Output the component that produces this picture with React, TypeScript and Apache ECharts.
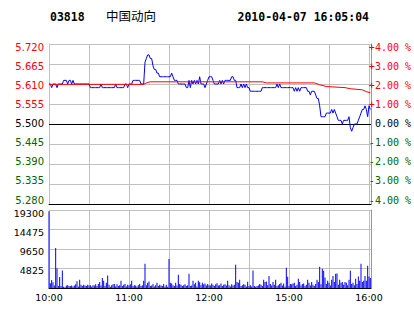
import React, { useEffect, useRef } from "react";
import * as echarts from "echarts";

// ---- data ----
const STOCK_CODE = "03818";
const STOCK_NAME = "中国动向";
const STAMP = "2010-04-07 16:05:04";

const PRICE_TICKS = ["5.280", "5.335", "5.390", "5.445", "5.500", "5.555", "5.610", "5.665", "5.720"];
const PCT_TICKS = ["-4.00 %", "-3.00 %", "-2.00 %", "-1.00 %", "\u00a00.00 %", "+1.00 %", "+2.00 %", "+3.00 %", "+4.00 %"];
const VOL_TICKS = ["", "4825", "9650", "14475", "19300"];
const TIME_LABELS = ["10:00", "11:00", "12:00", "15:00", "16:00"];
const TIME_AT = [0, 60, 120, 180, 240];

const PREV_CLOSE = 5.5;

// minute-by-minute price (10:00-12:30, 14:30-16:00)
const PRICES = [
  5.61, 5.61, 5.60, 5.61, 5.61, 5.61, 5.60, 5.61, 5.61, 5.61,
  5.61, 5.62, 5.62, 5.62, 5.61, 5.62, 5.62, 5.61, 5.62, 5.61,
  5.61, 5.61, 5.61, 5.61, 5.61, 5.61, 5.61, 5.61, 5.61, 5.61,
  5.61, 5.60, 5.60, 5.60, 5.60, 5.60, 5.60, 5.60, 5.60, 5.61,
  5.60, 5.60, 5.60, 5.60, 5.60, 5.60, 5.60, 5.60, 5.60, 5.60,
  5.61, 5.60, 5.60, 5.60, 5.60, 5.60, 5.60, 5.61, 5.61, 5.60,
  5.61, 5.61, 5.61, 5.62, 5.62, 5.62, 5.62, 5.62, 5.62, 5.61,
  5.61, 5.61, 5.67, 5.68, 5.69, 5.69, 5.68, 5.68, 5.66, 5.65,
  5.65, 5.64, 5.64, 5.63, 5.63, 5.63, 5.63, 5.63, 5.63, 5.63,
  5.63, 5.63, 5.64, 5.63, 5.62, 5.62, 5.62, 5.61, 5.61, 5.61,
  5.61, 5.61, 5.61, 5.60, 5.60, 5.62, 5.60, 5.62, 5.61, 5.62,
  5.61, 5.62, 5.61, 5.63, 5.61, 5.61, 5.61, 5.60, 5.61, 5.62,
  5.63, 5.63, 5.63, 5.62, 5.61, 5.61, 5.61, 5.61, 5.62, 5.61,
  5.62, 5.61, 5.62, 5.62, 5.62, 5.62, 5.62, 5.63, 5.63, 5.62,
  5.62, 5.60, 5.60, 5.60, 5.61, 5.60, 5.61, 5.60, 5.61, 5.60,
  5.60, 5.59, 5.59, 5.59, 5.59, 5.59, 5.59, 5.59, 5.59, 5.59,
  5.60, 5.60, 5.60, 5.60, 5.60, 5.60, 5.60, 5.60, 5.60, 5.60,
  5.60, 5.61, 5.60, 5.61, 5.60, 5.60, 5.60, 5.60, 5.60, 5.60,
  5.60, 5.60, 5.60, 5.60, 5.59, 5.60, 5.59, 5.60, 5.59, 5.60,
  5.60, 5.60, 5.60, 5.60, 5.59, 5.59, 5.58, 5.59, 5.59, 5.59,
  5.58, 5.57, 5.57, 5.55, 5.52, 5.52, 5.52, 5.52, 5.53, 5.53,
  5.53, 5.53, 5.54, 5.53, 5.54, 5.53, 5.52, 5.51, 5.51, 5.51,
  5.50, 5.51, 5.51, 5.51, 5.51, 5.52, 5.49, 5.48, 5.49, 5.50,
  5.50, 5.50, 5.51, 5.52, 5.53, 5.54, 5.54, 5.55, 5.54, 5.52,
  5.55, 5.54,
];

// average price line, read at its turning points
const AVG_MIN = [0, 71, 73, 76, 160, 163, 199, 203, 208, 222, 226, 235, 238, 241];
const AVG_VAL = [5.609, 5.609, 5.613, 5.616, 5.616, 5.613, 5.613, 5.608, 5.603, 5.6, 5.597, 5.594, 5.589, 5.586];

// minute volumes
const VOLUMES = [
  19000, 1200, 2000, 1400, 600, 9900, 4900, 500, 2700, 500,
  4300, 300, 200, 600, 700, 500, 500, 600, 400, 600,
  900, 1650, 400, 2050, 800, 500, 800, 600, 500, 800,
  600, 700, 400, 700, 600, 900, 500, 1000, 1500, 600,
  2500, 1800, 500, 1300, 3100, 800, 300, 700, 900, 1000,
  400, 900, 500, 700, 1800, 500, 800, 1000, 400, 800,
  600, 900, 1800, 500, 700, 600, 400, 700, 1000, 500,
  700, 1800, 6000, 700, 1300, 1600, 500, 600, 1000, 400,
  700, 1300, 500, 800, 600, 500, 1000, 400, 800, 300,
  7200, 1300, 1100, 700, 500, 1300, 600, 3300, 1000, 800,
  500, 700, 900, 500, 700, 3500, 500, 600, 1800, 900,
  1300, 400, 1800, 1400, 700, 1300, 900, 1100, 600, 1000,
  700, 600, 1100, 800, 500, 900, 1200, 600, 700, 1100,
  500, 800, 900, 600, 1800, 700, 400, 900, 600, 800,
  5740, 1500, 1300, 2050, 500, 700, 900, 800, 400, 1560,
  500, 700, 400, 4300, 500, 300, 500, 600, 1000, 800,
  500, 2050, 1500, 1600, 700, 3000, 1000, 600, 1500, 800,
  2050, 500, 700, 1000, 1300, 600, 1100, 400, 5000, 2800,
  500, 1000, 900, 1100, 1300, 500, 800, 2300, 1500, 600,
  1000, 1100, 500, 800, 2050, 1300, 600, 1500, 800, 500,
  1000, 2050, 1500, 5250, 900, 4750, 4260, 2600, 1000, 1800,
  1300, 600, 2050, 3000, 1500, 3500, 3600, 800, 2050, 1300,
  1500, 800, 1500, 1300, 700, 2050, 4260, 1000, 1300, 700,
  2300, 1000, 2870, 1800, 6000, 1500, 1800, 3000, 1800, 5500,
  2870, 2460,
];

const RED = "#ff0000";
const GREEN = "#006600";
const GRID = "#c0c0c0";
const EDGE = "#999999";
const BLUE = "#0000ff";

export default function App() {
  const ref = useRef<HTMLDivElement>(null);
  useEffect(() => {
    if (!ref.current) return;
    const chart = echarts.init(ref.current, null, { renderer: "svg", width: 414, height: 314 });
    const tickColor = (i: number) => (i > 4 ? RED : i < 4 ? GREEN : "#000");
    const baseX = (grid: number) => ({
      type: "value" as const,
      gridIndex: grid,
      min: 0,
      max: 241.5,
      interval: 30,
      axisTick: { show: false },
      axisLine: { show: true, onZero: false, lineStyle: { color: "#000", width: 1 } },
      splitLine: { show: true, lineStyle: { color: GRID, width: 1 } },
    });
    chart.setOption({
      animation: false,
      backgroundColor: "#fff",
      graphic: [
        {
          type: "text", x: 50, y: 17,
          style: { text: STOCK_CODE, font: 'bold 11.5px "DejaVu Sans Mono"', fill: "#000", textVerticalAlign: "middle", verticalAlign: "middle" },
        },
        {
          type: "text", x: 106, y: 15,
          style: { text: STOCK_NAME, font: '12.5px "Noto Sans CJK SC"', fill: "#000", textVerticalAlign: "middle", verticalAlign: "middle" },
        },
        {
          type: "text", x: 237.5, y: 17,
          style: { text: STAMP, font: 'bold 11.5px "DejaVu Sans Mono"', fill: "#000", textVerticalAlign: "middle", verticalAlign: "middle" },
        },
      ],
      grid: [
        { left: 49, top: 44, width: 322, height: 160 },
        { left: 49, top: 210, width: 322, height: 78 },
        { left: 49, top: 47.7, width: 322, height: 152.3 },
        { left: 49, top: 213, width: 322, height: 76.8 },
      ],
      xAxis: [
        { ...baseX(0), axisLabel: { show: false } },
        {
          ...baseX(1),
          axisLabel: {
            show: true,
            margin: 4,
            color: "#000",
            fontFamily: "DejaVu Sans",
            fontSize: 9.5,
            formatter: (v: number) => {
              const k = TIME_AT.indexOf(v);
              return k >= 0 ? TIME_LABELS[k] : "";
            },
          },
        },
        { type: "value", gridIndex: 2, show: false, min: 0, max: 1 },
        { type: "value", gridIndex: 3, show: false, min: 0, max: 1 },
      ],
      yAxis: [
        {
          type: "value", gridIndex: 0, min: 5.28, max: 5.72, interval: 0.055,
          axisLine: { show: true, lineStyle: { color: GRID } },
          axisTick: { show: false }, axisLabel: { show: false },
          splitLine: { show: true, lineStyle: { color: GRID, width: 1 } },
        },
        {
          type: "value", gridIndex: 0, position: "right", min: 0, max: 1,
          axisLine: { show: true, lineStyle: { color: EDGE } },
          axisTick: { show: false }, axisLabel: { show: false }, splitLine: { show: false },
        },
        {
          type: "value", gridIndex: 1, min: 0, max: 19300, interval: 4825,
          axisLine: { show: true, lineStyle: { color: GRID } },
          axisTick: { show: false }, axisLabel: { show: false },
          splitLine: { show: true, lineStyle: { color: GRID, width: 1 } },
        },
        {
          type: "value", gridIndex: 1, position: "right", min: 0, max: 1,
          axisLine: { show: true, lineStyle: { color: EDGE } },
          axisTick: { show: false }, axisLabel: { show: false }, splitLine: { show: false },
        },
        {
          type: "value", gridIndex: 2, min: 0, max: 8, interval: 1,
          axisLine: { show: false }, axisTick: { show: false }, splitLine: { show: false },
          axisLabel: {
            margin: 5, fontFamily: "DejaVu Sans", fontSize: 10,
            formatter: (v: number) => PRICE_TICKS[Math.round(v)],
            color: (v: any) => tickColor(Math.round(Number(v))),
          },
        },
        {
          type: "value", gridIndex: 2, position: "right", min: 0, max: 8, interval: 1,
          axisLine: { show: false }, axisTick: { show: false }, splitLine: { show: false },
          axisLabel: {
            margin: 0, fontFamily: "DejaVu Sans Mono", fontSize: 10, align: "left",
            formatter: (v: number) => PCT_TICKS[Math.round(v)],
            color: (v: any) => tickColor(Math.round(Number(v))),
          },
        },
        {
          type: "value", gridIndex: 3, min: 0, max: 4, interval: 1,
          axisLine: { show: false }, axisTick: { show: false }, splitLine: { show: false },
          axisLabel: {
            margin: 5, fontFamily: "DejaVu Sans", fontSize: 9.5, color: "#000",
            formatter: (v: number) => VOL_TICKS[Math.round(v)],
          },
        },
      ],
      series: [
        {
          type: "line", xAxisIndex: 0, yAxisIndex: 0,
          data: PRICES.map((v, i) => [i, v]),
          symbol: "none", silent: true,
          lineStyle: { color: BLUE, width: 1 },
          markLine: {
            silent: true, symbol: "none", z: 1,
            label: { show: false },
            lineStyle: { color: "#000", width: 1, type: "solid" },
            data: [{ yAxis: PREV_CLOSE }],
          },
        },
        {
          type: "line", xAxisIndex: 0, yAxisIndex: 0,
          data: AVG_MIN.map((m, i) => [m, AVG_VAL[i]]),
          symbol: "none", silent: true,
          lineStyle: { color: RED, width: 1 },
        },
        {
          type: "bar", xAxisIndex: 1, yAxisIndex: 2,
          data: VOLUMES.map((v, i) => [i, v]),
          barWidth: 1, silent: true,
          itemStyle: { color: BLUE },
        },
      ],
    });
    return () => chart.dispose();
  }, []);
  return (
    <div
      ref={ref}
      style={{ position: "fixed", left: 0, top: 0, width: 414, height: 314, background: "#fff" }}
    />
  );
}
